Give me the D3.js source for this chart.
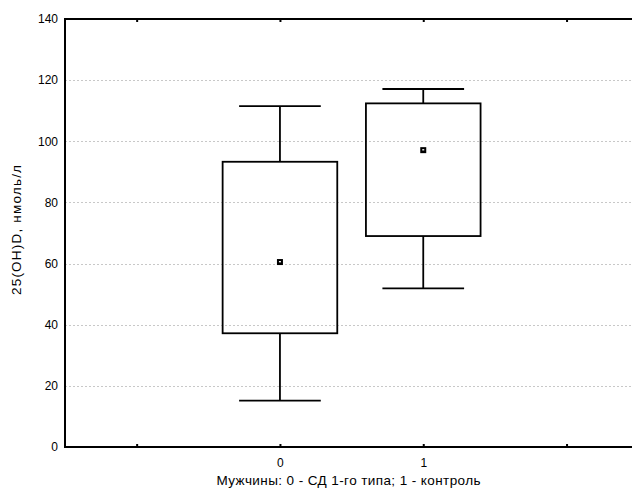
<!DOCTYPE html>
<html>
<head>
<meta charset="utf-8">
<script src="https://cdn.jsdelivr.net/npm/d3@7"></script>
<style>
  html, body { margin: 0; padding: 0; background: #fff; }
  svg { display: block; font-family: "Liberation Sans", Arial, sans-serif; }
</style>
</head>
<body>
<svg id="chart" width="632" height="488"></svg>
<script>
// Groups along the x axis
const groups = [0, 1];
// Box statistics per group
const whiskerLow  = [15.2, 51.9];
const boxLow      = [37.2, 69.0];
const centerPoint = [60.5, 97.1];
const boxHigh     = [93.3, 112.4];
const whiskerHigh = [111.5, 117.1];
// Axis ticks
const yTicks = [0, 20, 40, 60, 80, 100, 120, 140];
const xTicks = [-1, 0, 1, 2];
const xTickLabels = ["", "0", "1", ""];
const xTitle = "Мужчины: 0 - СД 1-го типа; 1 - контроль";
const yTitle = "25(OH)D, нмоль/л";

const width = 632, height = 488;
const margin = { left: 65, top: 19, bottom: 41 };

const svg = d3.select("#chart");

const x = d3.scaleLinear().domain([-1.5, 2.5]).range([margin.left, margin.left + 4 * 143.3]);
const y = d3.scaleLinear().domain([0, 140]).range([height - margin.bottom, margin.top]);

// dotted horizontal grid
svg.append("g")
  .selectAll("line")
  .data(yTicks.filter(d => d > 0 && d < 140))
  .join("line")
  .attr("x1", margin.left).attr("x2", width)
  .attr("y1", d => Math.round(y(d)) + 0.5).attr("y2", d => Math.round(y(d)) + 0.5)
  .attr("stroke", "#c8c8c8")
  .attr("stroke-width", 1)
  .attr("stroke-dasharray", "2,2");

// y axis labels
const yAxis = d3.axisLeft(y).tickValues(yTicks).tickSize(0).tickPadding(7);
const gy = svg.append("g").attr("transform", `translate(${margin.left},0)`).call(yAxis);
gy.select(".domain").remove();
gy.selectAll("text").attr("font-size", 12).attr("fill", "#000").attr("font-family", "Liberation Sans, Arial, sans-serif");

// x axis: inward ticks on bottom and top
const xAxis = d3.axisBottom(x).tickValues(xTicks).tickFormat((d, i) => xTickLabels[i]).tickSizeInner(-3).tickSizeOuter(0).tickPadding(11);
const gx = svg.append("g").attr("transform", `translate(0,${y(0)})`).call(xAxis);
gx.select(".domain").remove();
gx.selectAll("line").attr("stroke", "#000").attr("stroke-width", 2);
gx.selectAll("text").attr("font-size", 12).attr("fill", "#000").attr("font-family", "Liberation Sans, Arial, sans-serif");

const gxTop = svg.append("g").attr("transform", `translate(0,${y(140)})`)
  .call(d3.axisTop(x).tickValues(xTicks).tickFormat("").tickSizeInner(-3).tickSizeOuter(0));
gxTop.select(".domain").remove();
gxTop.selectAll("line").attr("stroke", "#000").attr("stroke-width", 2);

// frame: left, top, bottom
svg.append("path")
  .attr("d", `M${width},${y(140)}H${margin.left}V${y(0)}H${width}`)
  .attr("fill", "none")
  .attr("stroke", "#000")
  .attr("stroke-width", 2);

// boxes
const data = groups.map((g, i) => ({
  g, lo: whiskerLow[i], q1: boxLow[i], c: centerPoint[i], q3: boxHigh[i], hi: whiskerHigh[i]
}));
const boxHalf = 0.4, capHalf = 0.285;
const gb = svg.append("g").attr("stroke", "#000").attr("stroke-width", 1.8).attr("fill", "none");
const item = gb.selectAll("g").data(data).join("g");

item.append("line")
  .attr("x1", d => x(d.g)).attr("x2", d => x(d.g))
  .attr("y1", d => y(d.hi)).attr("y2", d => y(d.q3));
item.append("line")
  .attr("x1", d => x(d.g)).attr("x2", d => x(d.g))
  .attr("y1", d => y(d.q1)).attr("y2", d => y(d.lo));
item.append("line")
  .attr("x1", d => x(d.g - capHalf)).attr("x2", d => x(d.g + capHalf))
  .attr("y1", d => y(d.hi)).attr("y2", d => y(d.hi));
item.append("line")
  .attr("x1", d => x(d.g - capHalf)).attr("x2", d => x(d.g + capHalf))
  .attr("y1", d => y(d.lo)).attr("y2", d => y(d.lo));
item.append("rect")
  .attr("x", d => x(d.g - boxHalf))
  .attr("width", d => x(d.g + boxHalf) - x(d.g - boxHalf))
  .attr("y", d => y(d.q3))
  .attr("height", d => y(d.q1) - y(d.q3));

// centre marker: small black square with a white core
item.append("rect")
  .attr("x", d => x(d.g) - 3).attr("y", d => y(d.c) - 3)
  .attr("width", 6).attr("height", 6)
  .attr("fill", "#000").attr("stroke", "none");
item.append("rect")
  .attr("x", d => x(d.g) - 1).attr("y", d => y(d.c) - 1)
  .attr("width", 2).attr("height", 1.3)
  .attr("fill", "#fff").attr("stroke", "none");

// axis titles
svg.append("text")
  .attr("x", (margin.left + width) / 2)
  .attr("y", 485)
  .attr("text-anchor", "middle")
  .attr("font-size", 13.5)
  .attr("textLength", 264)
  .attr("lengthAdjust", "spacing")
  .text(xTitle);

svg.append("text")
  .attr("transform", `translate(21,${(y(0) + y(140)) / 2 - 3}) rotate(-90)`)
  .attr("text-anchor", "middle")
  .attr("font-size", 13.5)
  .attr("textLength", 130)
  .attr("lengthAdjust", "spacing")
  .text(yTitle);
</script>
</body>
</html>
